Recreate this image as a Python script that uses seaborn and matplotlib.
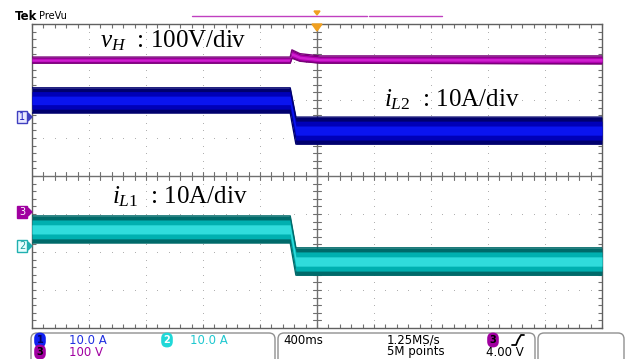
import numpy as np
import pandas as pd
import seaborn as sns
import matplotlib
matplotlib.use("Agg")
import matplotlib.pyplot as plt
from matplotlib.patches import FancyBboxPatch, Polygon

# ---------------- data (screen divisions: x -5..5, y -4..4) ----------------
t_cur = [-5.0, -0.47, -0.37, 5.0]
iL2_hi = [2.32, 2.32, 1.55, 1.55]
iL2_lo = [1.66, 1.66, 0.84, 0.84]
iL1_hi = [-1.05, -1.05, -1.89, -1.89]
iL1_lo = [-1.76, -1.76, -2.61, -2.61]
t_vh = [-5.0, -0.47, -0.44, -0.30, 0.05, 5.0]
vH_hi = [3.13, 3.13, 3.32, 3.22, 3.16, 3.16]
vH_lo = [2.97, 2.97, 3.10, 3.02, 2.97, 2.95]

labels = [r"$v_{H}$  : 100V/div", r"$i_{L2}$  : 10A/div", r"$i_{L1}$  : 10A/div"]
label_pos = [(-3.81, 3.39), (1.18, 1.82), (-3.6, -0.71)]

sns.set_theme(style="white")
plt.rcParams["mathtext.fontset"] = "custom"
plt.rcParams["mathtext.rm"] = "Liberation Serif"
plt.rcParams["mathtext.it"] = "Liberation Serif:italic"
plt.rcParams["font.family"] = ["DejaVu Sans"]

W, H = 632, 359
fig = plt.figure(figsize=(W / 100, H / 100), dpi=100)
fig.patch.set_facecolor("white")
ax = fig.add_axes([32 / W, 1 - 328 / H, 570 / W, 304 / H])
ax.set_xlim(-5, 5)
ax.set_ylim(-4, 4)
ax.set_facecolor("white")

# grid dots
gc = "#b0b0b0"
for k in range(-4, 5):
    if k == 0:
        continue
    ys = np.arange(-4, 4.001, 0.2)
    ax.plot([k] * len(ys), ys, ls="none", marker="s", ms=0.7, mew=0, color=gc, zorder=1)
for k in range(-3, 4):
    if k == 0:
        continue
    xs = np.arange(-5, 5.001, 0.2)
    ax.plot(xs, [k] * len(xs), ls="none", marker="s", ms=0.7, mew=0, color=gc, zorder=1)
# center lines with ticks
lc = "#707070"
ax.axvline(0, color=lc, lw=1.0, zorder=1)
ax.axhline(0, color=lc, lw=1.0, zorder=1)
for y in np.arange(-4, 4.001, 0.2):
    ax.plot([-0.07, 0.07], [y, y], color=lc, lw=0.8, zorder=1)
for x in np.arange(-5, 5.001, 0.2):
    ax.plot([x, x], [-0.1, 0.1], color=lc, lw=0.8, zorder=1)

for s in ax.spines.values():
    s.set_color("#606060")
    s.set_linewidth(1.0)
ax.set_xticks(np.arange(-5, 5.001, 0.2))
ax.set_yticks(np.arange(-4, 4.001, 0.2))
ax.tick_params(direction="in", length=3, width=0.8, color="#707070",
               top=True, right=True, bottom=True, left=True,
               labelbottom=False, labelleft=False)


def band(t, hi, lo, dark, mid, bright):
    t = np.array(t); hi = np.array(hi); lo = np.array(lo)
    w = hi - lo
    ax.fill_between(t, lo, hi, color=dark, lw=0, zorder=3)
    ax.fill_between(t, lo + 0.15 * w, hi - 0.15 * w, color=mid, lw=0, zorder=3)
    ax.fill_between(t, lo + 0.33 * w, hi - 0.33 * w, color=bright, lw=0, zorder=3)
    df = pd.DataFrame({"t": t, "hi": hi, "lo": lo})
    sns.lineplot(data=df, x="t", y="hi", color=dark, lw=1.0, ax=ax, zorder=4)
    sns.lineplot(data=df, x="t", y="lo", color=dark, lw=1.0, ax=ax, zorder=4)


band(t_vh, vH_hi, vH_lo, "#7a007a", "#b000b0", "#d020d0")
band(t_cur, iL2_hi, iL2_lo, "#00006e", "#0000b8", "#0a14f0")
band(t_cur, iL1_hi, iL1_lo, "#006a6a", "#00b0b0", "#30dcdc")
ax.set_xlim(-5, 5)
ax.set_ylim(-4, 4)
ax.set_xlabel("")
ax.set_ylabel("")

for txt, (x, y) in zip(labels, label_pos):
    ax.text(x, y, txt, fontsize=18, family="Liberation Serif", color="black",
            ha="left", va="baseline", zorder=6)

# ---------------- overlay (pixel coords) ----------------
ov = fig.add_axes([0, 0, 1, 1])
ov.set_xlim(0, W)
ov.set_ylim(H, 0)
ov.axis("off")
ov.patch.set_alpha(0)

ov.text(15, 16, "Tek", fontsize=8.5, fontweight="bold", color="black", va="center", ha="left")
ov.text(39, 16, "PreVu", fontsize=7, color="black", va="center", ha="left")
ov.plot([192, 367], [16, 16], color="#c040c0", lw=1.0)
ov.plot([369, 442], [16, 16], color="#c040c0", lw=1.0)
ov.add_patch(Polygon([[314, 11], [320, 11], [317, 15]], closed=True, color="#f0a020"))
ov.add_patch(Polygon([[312, 24], [322, 24], [317, 31]], closed=True, color="#f0a020", zorder=5))

# channel markers on left
def marker(y, label, edge, face, tcol):
    ov.text(22, y, label, fontsize=7, color=tcol, ha="center", va="center",
            bbox=dict(boxstyle="square,pad=0.15", fc=face, ec=edge, lw=1.0))
    ov.add_patch(Polygon([[28, y - 4], [32, y], [28, y + 4]], closed=True, color=edge))

marker(117, "1", "#4040c0", "#e8e8ff", "#2020c0")
marker(212, "3", "#a000a0", "#a000a0", "white")
marker(246, "2", "#20b0b0", "#e8ffff", "#20a0a0")

# status bar boxes
for x0, x1 in [(31, 275), (278, 535), (538, 624)]:
    ov.add_patch(FancyBboxPatch((x0, 333), x1 - x0, 40,
                                boxstyle="round,pad=0,rounding_size=6",
                                fc="white", ec="#909090", lw=1.0))

def badge(x, y, label, fc, tc):
    ov.text(x, y, label, fontsize=7, fontweight="bold", color=tc, ha="center", va="center",
            bbox=dict(boxstyle="round,pad=0.25,rounding_size=0.6", fc=fc, ec="none"))

badge(40, 340, "1", "#1020f0", "#000060")
badge(167, 340, "2", "#20d8d8", "white")
badge(40, 352, "3", "#a000a0", "black")
badge(493, 340, "3", "#a000a0", "black")

fs = 8.5
ov.text(69, 340, "10.0 A", fontsize=fs, color="#2030e0", va="center", ha="left")
ov.text(190, 340, "10.0 A", fontsize=fs, color="#20c8d0", va="center", ha="left")
ov.text(69, 352, "100 V", fontsize=fs, color="#a000a0", va="center", ha="left")
ov.text(283, 340, "400ms", fontsize=fs, color="black", va="center", ha="left")
ov.text(387, 340, "1.25MS/s", fontsize=fs, color="black", va="center", ha="left")
ov.text(387, 352, "5M points", fontsize=fs, color="black", va="center", ha="left")
ov.text(486, 352, "4.00 V", fontsize=fs, color="black", va="center", ha="left")
ov.plot([512, 516, 518, 521, 524], [345, 345, 340, 335, 335], color="black", lw=1.3)

fig.savefig("out.png", dpi=100)
